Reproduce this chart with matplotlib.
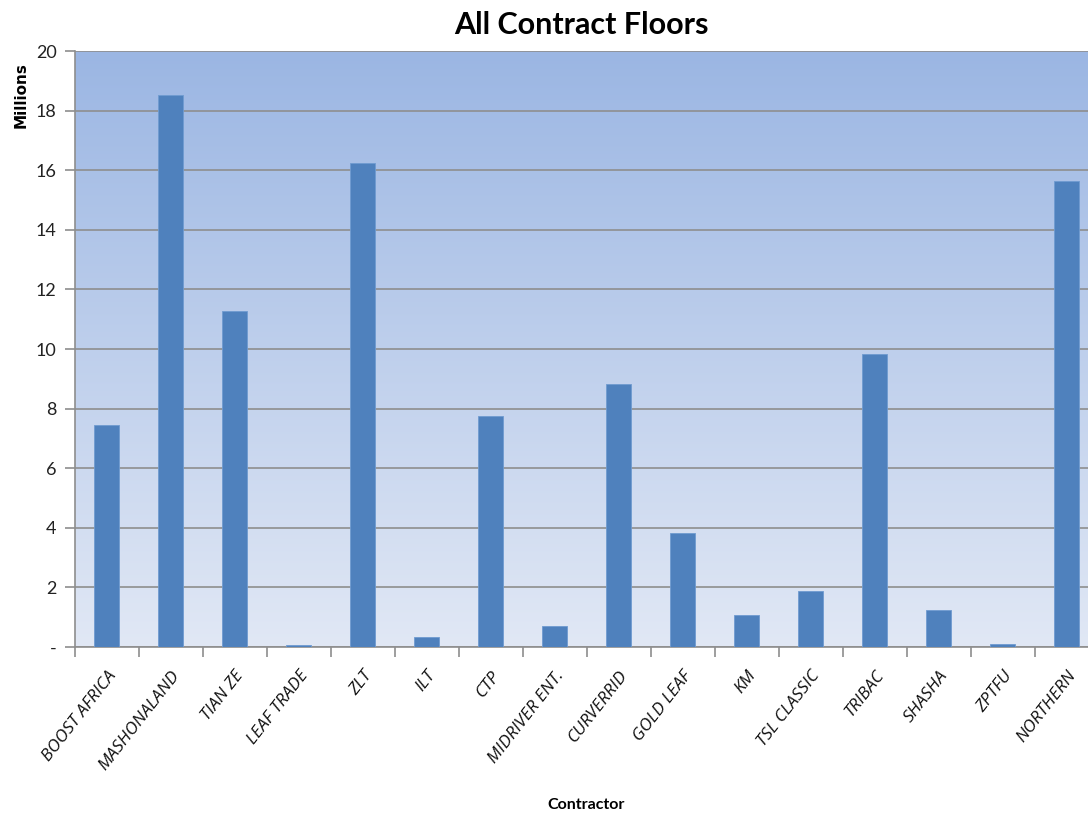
import matplotlib
matplotlib.use("Agg")
import matplotlib.pyplot as plt
import numpy as np
from matplotlib.colors import LinearSegmentedColormap

categories = ["BOOST AFRICA", "MASHONALAND", "TIAN ZE", "LEAF TRADE", "ZLT", "ILT",
              "CTP", "MIDRIVER ENT.", "CURVERRID", "GOLD LEAF", "KM", "TSL CLASSIC",
              "TRIBAC", "SHASHA", "ZPTFU", "NORTHERN"]
values = [7.44, 18.52, 11.26, 0.08, 16.25, 0.35, 7.74, 0.70, 8.81, 3.82, 1.06, 1.88,
          9.82, 1.24, 0.11, 15.64]
yticks = [0, 2, 4, 6, 8, 10, 12, 14, 16, 18, 20]
ytick_labels = ["-", "2", "4", "6", "8", "10", "12", "14", "16", "18", "20"]

FONT = "Lato"
W, H = 1088, 817
fig = plt.figure(figsize=(W / 100, H / 100), dpi=100)
fig.patch.set_facecolor("white")
left, right, bottom, top = 74.7, 1098.7, 647, 51
ax = fig.add_axes([left / W, (H - bottom) / H, (right - left) / W, (bottom - top) / H])
ax.set_facecolor("none")

n = len(categories)
ax.set_xlim(-0.5, n - 0.5)
ax.set_ylim(0, 20)

# gradient background
cmap = LinearSegmentedColormap.from_list("bg", ["#e1e8f5", "#9bb6e3"])
grad = np.linspace(0, 1, 256).reshape(-1, 1)
ax.imshow(grad, extent=(-0.5, n - 0.5, 0, 20), origin="lower", aspect="auto",
          cmap=cmap, zorder=0)

ax.set_yticks(yticks)
ax.set_yticklabels(ytick_labels, fontsize=13, family=FONT, color="#222222")
ax.yaxis.grid(True, color="#8e8e8e", linewidth=1.2, zorder=1)
ax.set_axisbelow(True)

x = np.arange(n)
ax.bar(x, values, width=0.39, color="#4f81bd", edgecolor="#6f9bd0", linewidth=0.6, zorder=3)

ax.set_xticks(x)
ax.set_xticklabels(categories, rotation=52, ha="right", rotation_mode="anchor",
                   fontsize=12.5, style="italic", family="Open Sans", color="#111111")
ax.set_xticks(np.arange(-0.5, n, 1.0), minor=True)
ax.tick_params(axis="x", which="major", length=0, pad=15)
ax.tick_params(axis="x", which="minor", length=7, color="#8e8e8e", width=1.2)
ax.tick_params(axis="y", length=7, color="#8e8e8e", width=1.2, pad=6)

for s in ["top", "right"]:
    ax.spines[s].set_visible(False)
for s in ["left", "bottom"]:
    ax.spines[s].set_color("#8e8e8e")
    ax.spines[s].set_linewidth(1.2)

fig.text(581 / W, 1 - 25 / H, "All Contract Floors", ha="center", va="center",
         fontsize=22, weight="bold", family=FONT)
fig.text(21 / W, 1 - 95 / H, "Millions", ha="center", va="center", rotation=90,
         fontsize=11, weight="bold", family="DejaVu Sans")
fig.text(586 / W, 1 - 805 / H, "Contractor", ha="center", va="center",
         fontsize=11.5, weight="bold", family=FONT)

fig.savefig("out.png", dpi=100)
